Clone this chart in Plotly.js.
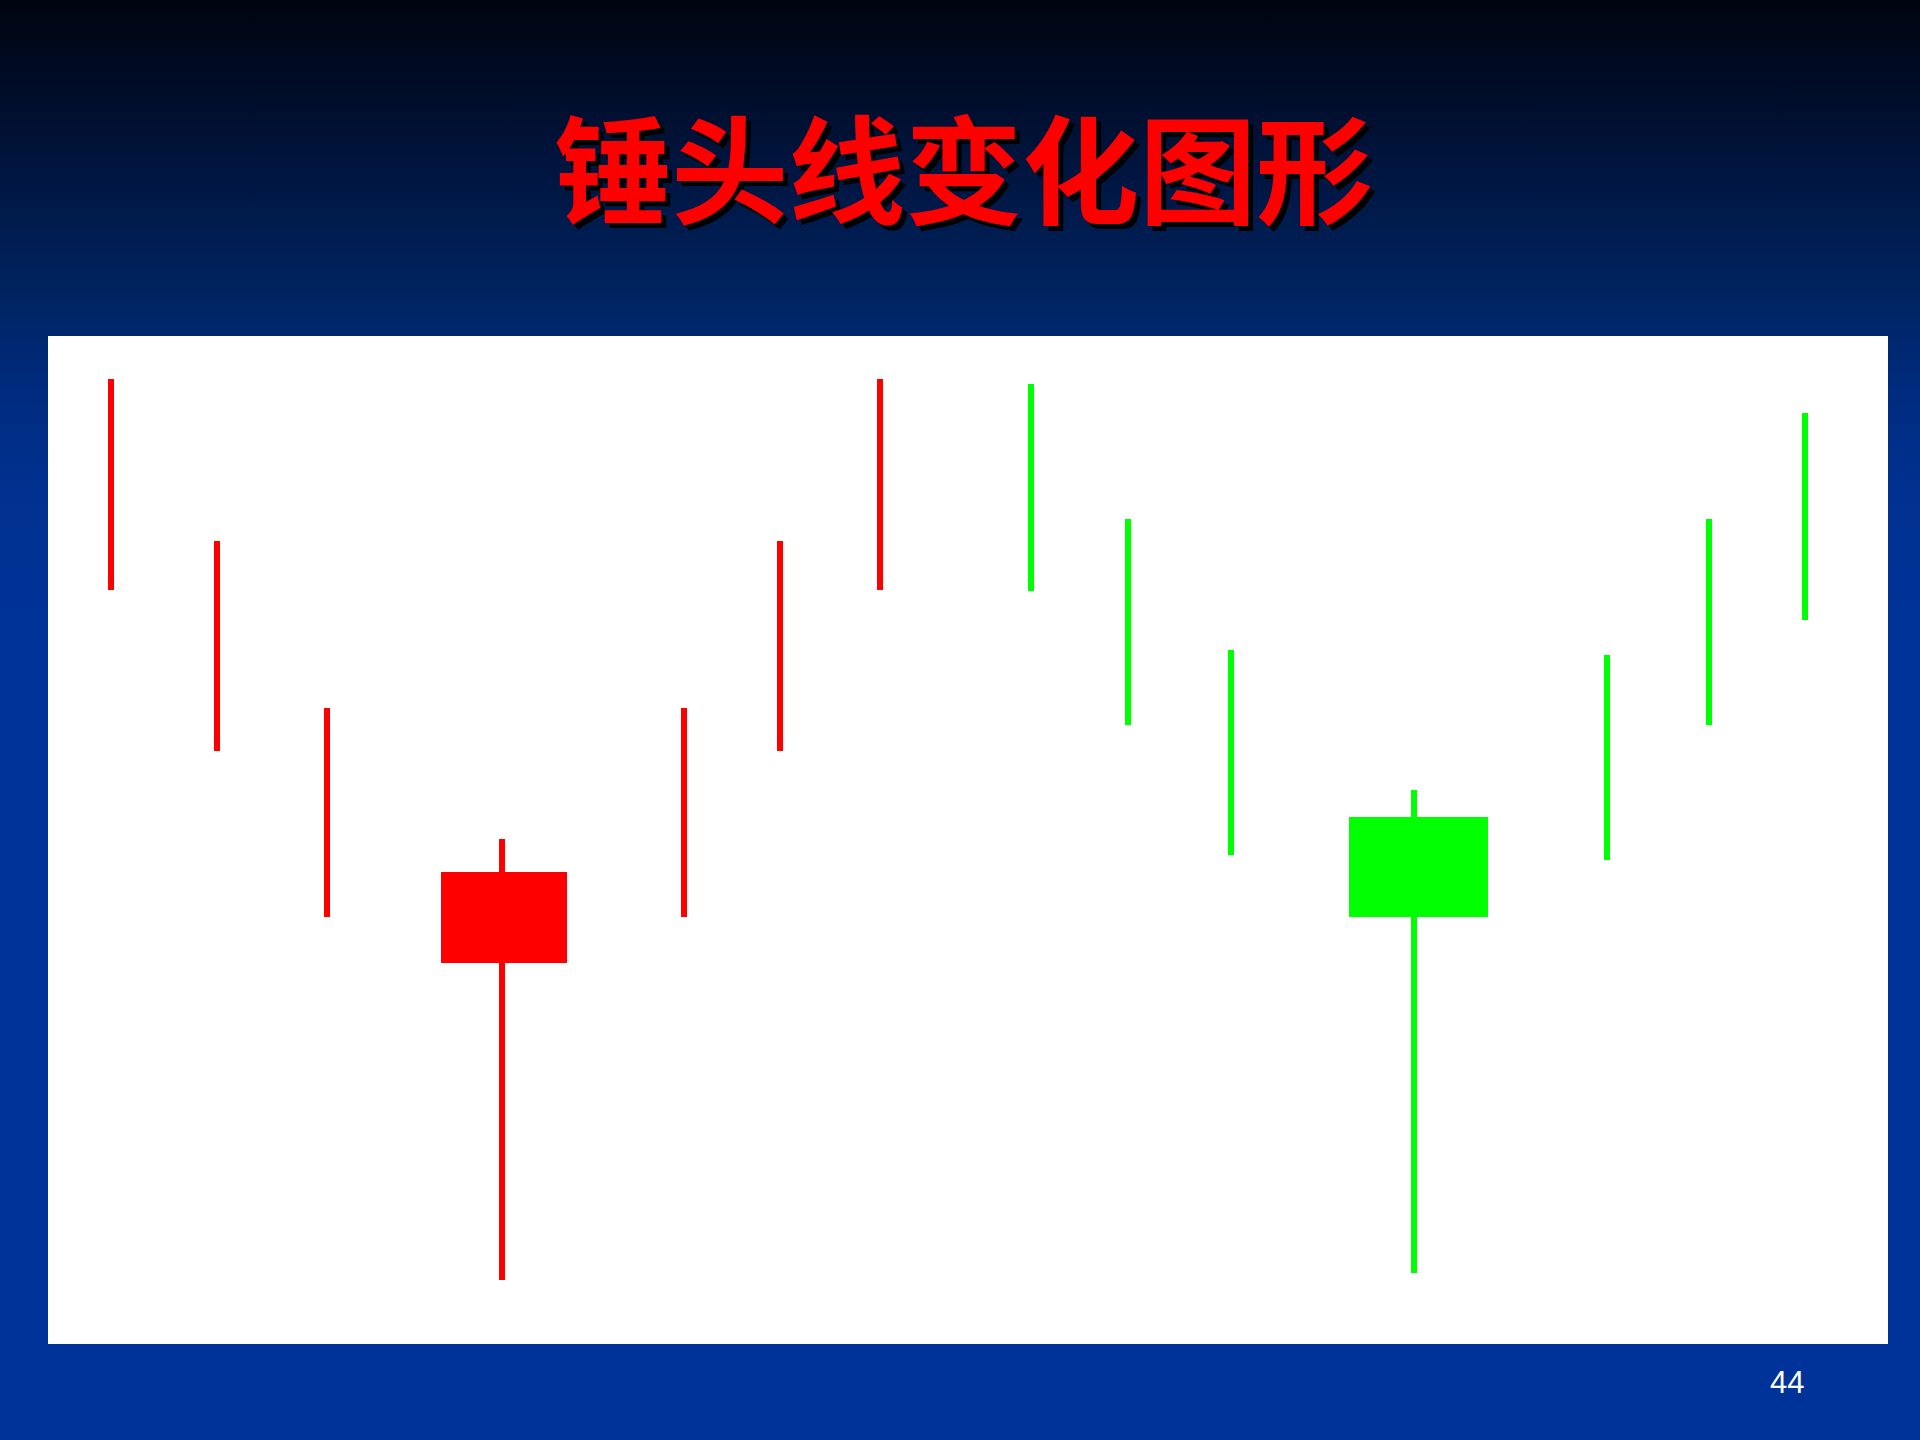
<!DOCTYPE html>
<html>
<head>
<meta charset="utf-8">
<script src="https://cdn.plot.ly/plotly-3.0.1.min.js"></script>
<style>
  html, body {
    margin: 0;
    padding: 0;
    width: 1920px;
    height: 1440px;
    overflow: hidden;
    background: linear-gradient(to bottom, #00040f 0%, #001540 12%, #00235f 20%, #002b7e 27%, #003190 34%, #003399 45%, #003399 100%);
  }
  #myDiv { width: 1920px; height: 1440px; }
</style>
</head>
<body>
<div id="myDiv"></div>
<script>
// candle wicks (price units), red group on the left, green group on the right
const redX = [6.3, 16.9, 27.9, 45.4, 63.6, 73.2, 83.2];
const redHigh = [96.5, 80.3, 63.6, 50.5, 63.6, 80.3, 96.5];
const redLow = [75.4, 59.3, 42.7, 6.4, 42.7, 59.3, 75.4];

const greenX = [98.3, 108.0, 118.3, 136.6, 155.9, 166.1, 175.7];
const greenHigh = [96.0, 82.5, 69.4, 55.4, 68.9, 82.5, 93.1];
const greenLow = [75.3, 61.9, 48.9, 7.1, 48.4, 61.9, 72.4];

// the two hammer bodies
const bodyX = [45.6, 137.0];
const bodyTop = [47.2, 52.7];
const bodyBottom = [38.1, 42.7];
const bodyWidth = [12.6, 13.9];

const titleText = "锤头线变化图形";
const pageNumber = "44";

const RED = "#ff0000";
const GREEN = "#00ff00";

function wick_segments(xs, highs, lows) {
  let x = [];
  let y = [];
  for (let i = 0; i < xs.length; i++) {
    x.push(xs[i], xs[i], null);
    y.push(lows[i], highs[i], null);
  }
  return { x: x, y: y };
}

function wick_trace(xs, highs, lows, color) {
  const seg = wick_segments(xs, highs, lows);
  return {
    type: "scatter",
    mode: "lines",
    x: seg.x,
    y: seg.y,
    line: { color: color, width: 6 },
    hoverinfo: "skip",
    showlegend: false,
  };
}

const data = [
  wick_trace(redX, redHigh, redLow, RED),
  wick_trace(greenX, greenHigh, greenLow, GREEN),
  {
    type: "bar",
    x: bodyX,
    base: bodyBottom,
    y: bodyTop.map((t, i) => t - bodyBottom[i]),
    width: bodyWidth,
    marker: { color: [RED, GREEN], line: { width: 0 } },
    hoverinfo: "skip",
    showlegend: false,
  },
];

const layout = {
  width: 1920,
  height: 1440,
  margin: { l: 48, r: 32, t: 336, b: 96, pad: 0 },
  paper_bgcolor: "rgba(0,0,0,0)",
  plot_bgcolor: "#ffffff",
  title: {
    text: "<b>" + titleText + "</b>",
    x: 0.502,
    xanchor: "center",
    y: 1 - 174 / 1440,
    yanchor: "middle",
    yref: "container",
    font: {
      family: "Noto Sans CJK SC",
      size: 117,
      color: RED,
      shadow: "5px 5px 0px #000000",
    },
  },
  xaxis: {
    range: [0, 184],
    visible: false,
    fixedrange: true,
  },
  yaxis: {
    range: [0, 100.8],
    visible: false,
    fixedrange: true,
  },
  bargap: 0,
  annotations: [
    {
      text: pageNumber,
      xref: "paper",
      yref: "paper",
      x: (1787 - 48) / 1840,
      y: -(1382 - 1344) / 1008,
      xanchor: "center",
      yanchor: "middle",
      showarrow: false,
      font: { family: "Liberation Sans, Arial", size: 31, color: "#ffffff" },
    },
  ],
};

Plotly.newPlot("myDiv", data, layout, { staticPlot: true });
</script>
</body>
</html>
